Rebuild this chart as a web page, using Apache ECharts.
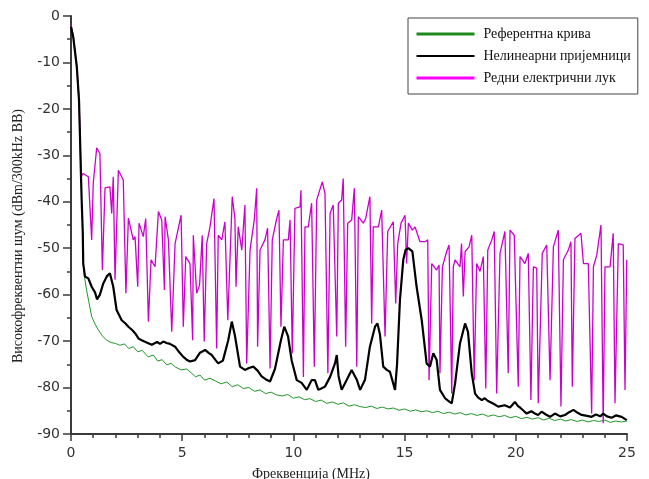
<!DOCTYPE html>
<html><head><meta charset="utf-8">
<script src="https://cdn.jsdelivr.net/npm/echarts@6/dist/echarts.min.js"></script>
<style>html,body{margin:0;padding:0;background:#fff}#c{width:649px;height:479px}</style>
</head><body><div id="c"></div>
<script>
const seriesNames = ['Референтна крива', 'Нелинеарни пријемници', 'Редни електрични лук'];
const xAxisTitle = 'Фреквенција (MHz)';
const yAxisTitle = 'Високофреквентни шум (dBm/300kHz BB)';

// Reference curve (green)
const greenFreq = [0.55,0.6,0.7,0.8,0.93,1.1,1.23,1.4,1.6,1.8,2.0,2.2,2.4,2.6,2.8,3.0,3.2,3.47,3.7,3.9,4.1,4.3,4.5,4.7,4.95,5.2,5.4,5.6,5.8,6.0,6.25,6.5,6.75,7.0,7.25,7.5,7.75,8.0,8.25,8.5,8.75,9.0,9.25,9.5,9.75,10.0,10.25,10.5,10.75,11.0,11.25,11.5,11.75,12.0,12.25,12.5,12.75,13.0,13.25,13.5,13.75,14.0,14.25,14.5,14.75,15.0,15.25,15.5,15.75,16.0,16.25,16.5,16.75,17.0,17.25,17.5,17.75,18.0,18.25,18.5,18.75,19.0,19.25,19.5,19.75,20.0,20.25,20.5,20.75,21.0,21.25,21.5,21.75,22.0,22.25,22.5,22.75,23.0,23.25,23.5,23.75,24.0,24.25,24.5,24.75,25.0];
const greenLevel = [-53.3,-56,-59,-61.5,-64.7,-66.5,-67.6,-68.8,-69.8,-70.3,-70.5,-70.9,-70.6,-71.6,-71.2,-72.3,-72.0,-73.4,-73.0,-74.3,-74.0,-75.1,-74.8,-75.6,-76.2,-76.0,-76.8,-77.7,-77.3,-78.4,-78.0,-78.6,-79.2,-78.8,-79.8,-79.4,-80.2,-80.0,-80.8,-80.5,-81.3,-81.0,-81.6,-81.8,-81.5,-82.3,-82.0,-82.6,-82.4,-83.0,-82.7,-83.4,-83.1,-83.6,-83.3,-84.0,-83.7,-84.1,-84.3,-84.0,-84.5,-84.2,-84.6,-84.4,-84.9,-84.6,-85.1,-84.8,-85.2,-85.0,-85.4,-85.1,-85.6,-85.3,-85.7,-85.4,-85.9,-85.6,-86.0,-85.7,-86.2,-85.9,-86.3,-86.0,-86.5,-86.2,-86.7,-86.4,-86.8,-86.5,-87.0,-86.6,-87.1,-86.8,-87.2,-86.9,-87.3,-87.0,-87.4,-87.1,-87.3,-87.0,-87.5,-87.2,-87.4,-87.2];

// Nonlinear receivers (black)
const blackFreq = [0,0.1,0.26,0.36,0.40,0.45,0.48,0.53,0.55,0.63,0.78,0.93,1.08,1.17,1.30,1.45,1.62,1.75,1.90,2.05,2.28,2.45,2.58,2.75,2.88,3.05,3.18,3.4,3.63,3.87,4.0,4.15,4.3,4.45,4.68,4.85,5.05,5.2,5.35,5.58,5.80,6.03,6.2,6.33,6.5,6.62,6.83,7.07,7.23,7.37,7.60,7.82,8.0,8.20,8.4,8.57,8.75,8.95,9.17,9.44,9.59,9.76,9.92,10.15,10.37,10.60,10.82,10.97,11.12,11.25,11.42,11.65,11.87,11.95,12.03,12.17,12.40,12.62,12.85,13.0,13.22,13.44,13.67,13.78,13.89,14.04,14.2,14.34,14.57,14.66,14.79,14.94,15.05,15.17,15.35,15.54,15.77,15.99,16.14,16.29,16.44,16.59,16.82,16.95,17.12,17.27,17.49,17.72,17.85,18.02,18.17,18.3,18.47,18.6,18.75,19.0,19.21,19.5,19.74,19.96,20.1,20.19,20.35,20.49,20.7,20.86,21.0,21.16,21.35,21.54,21.76,22.0,22.21,22.4,22.59,22.8,22.96,23.2,23.41,23.6,23.8,23.93,24.1,24.31,24.5,24.76,24.99];
const blackLevel = [-2.3,-4.5,-10.9,-18.1,-25.2,-34.6,-39.6,-46.8,-53.3,-56.1,-56.5,-58.3,-59.5,-61,-60,-57.6,-56,-55.4,-58.3,-63.3,-65.5,-66.2,-66.9,-67.6,-68.3,-69.5,-69.8,-70.3,-70.8,-70.2,-70.6,-70.1,-70.4,-70.6,-71.2,-72.3,-73.4,-74.0,-74.4,-74.1,-72.5,-71.9,-72.6,-73,-74.1,-74.8,-74.2,-69.8,-65.8,-68.8,-75.5,-76.2,-75.8,-75.5,-76.4,-77.6,-78.2,-78.7,-76,-69.8,-66.9,-69,-74.1,-78.4,-79,-80.5,-78.4,-78.4,-80.5,-80.2,-79.8,-77.7,-74.8,-73,-77.5,-80.5,-78.3,-76.2,-78.3,-80.5,-78.3,-71.2,-66.9,-66.2,-68.5,-75.5,-76.2,-76.6,-80.5,-75,-61.2,-52.5,-50.3,-50,-50.7,-58.3,-65.5,-74.8,-75.5,-72.6,-74,-80.5,-82.3,-82.8,-83.4,-79.1,-70.5,-66.2,-68,-77,-81.3,-82.1,-82.7,-82.3,-82.9,-83.5,-84.1,-83.8,-84.3,-83.1,-84.0,-84.3,-85.0,-85.6,-85.1,-85.6,-85.9,-85.2,-85.8,-86.3,-85.6,-86.2,-85.9,-85.3,-84.8,-85.5,-85.9,-86.1,-86.3,-85.8,-86.2,-85.6,-86.2,-86.5,-86.0,-86.3,-87];

// Series arc (magenta)
const pinkFreq = [0.0,0.1,0.26,0.36,0.40,0.45,0.55,0.78,0.93,1.0,1.155,1.30,1.41,1.53,1.75,1.83,1.90,1.98,2.13,2.35,2.47,2.58,2.80,2.88,3.00,3.06,3.25,3.36,3.48,3.60,3.78,3.93,4.08,4.20,4.23,4.38,4.53,4.68,4.95,5.05,5.16,5.35,5.47,5.50,5.65,5.78,5.90,5.99,6.10,6.25,6.43,6.55,6.62,6.78,6.92,7.05,7.25,7.37,7.42,7.52,7.68,7.82,7.90,8.05,8.24,8.35,8.39,8.50,8.72,8.84,8.95,9.05,9.25,9.35,9.44,9.55,9.77,9.85,9.95,10.07,10.30,10.34,10.45,10.52,10.67,10.82,10.94,11.05,11.30,11.42,11.55,11.65,11.79,11.95,12.02,12.17,12.24,12.35,12.44,12.62,12.74,12.85,12.92,13.14,13.25,13.44,13.52,13.59,13.82,13.97,14.12,14.24,14.49,14.60,14.69,14.84,15.02,15.09,15.17,15.35,15.47,15.69,15.92,16.04,16.10,16.22,16.44,16.55,16.59,16.70,16.89,17.00,17.12,17.19,17.27,17.49,17.56,17.64,17.72,17.90,18.02,18.13,18.24,18.39,18.54,18.65,18.74,18.92,19.03,19.14,19.29,19.51,19.66,19.74,19.93,20.11,20.19,20.41,20.56,20.68,20.79,20.94,21.01,21.19,21.39,21.54,21.69,21.91,22.03,22.14,22.36,22.48,22.54,22.66,22.93,23.04,23.26,23.41,23.49,23.64,23.83,23.93,24.01,24.24,24.38,24.46,24.61,24.83,24.91,24.99];
const pinkLevel = [-2.0,-4.3,-10.8,-18,-25,-34.6,-33.9,-34.6,-48.2,-36.0,-28.4,-29.6,-54.7,-37,-36.8,-42.5,-34.6,-56.8,-33.2,-35.3,-59.7,-43.5,-48.2,-47.5,-58.3,-44.6,-47.5,-43.6,-65.8,-52.5,-54,-42.1,-43.9,-59,-43.2,-48.2,-68,-49,-42.9,-66.9,-51.8,-53.3,-69.8,-47.2,-59.7,-58,-47.2,-70.1,-49,-45.4,-39.3,-71.6,-47.2,-48.2,-44.3,-65.5,-38.9,-43.6,-58.3,-45.4,-50.4,-40.7,-74.8,-50.4,-43.9,-37.1,-71.2,-50.4,-48.2,-45.7,-75.9,-48.2,-43.6,-41.8,-66.9,-48.2,-48.2,-43.9,-72.6,-41.4,-41.1,-37.5,-77.7,-45.4,-45.4,-40.3,-75.5,-39.6,-35.7,-38.2,-76.9,-42.5,-40.7,-69,-40.3,-39.6,-35,-71.2,-44.6,-43.9,-37.1,-75.5,-43.2,-44.6,-43.6,-38.9,-66.2,-45.4,-45.4,-41.8,-69,-46.4,-44.3,-61.9,-49,-44.6,-42.9,-53.3,-44.6,-46.1,-45.4,-48.6,-48.6,-48.2,-78.4,-53.3,-54.7,-53.6,-76.9,-54,-50.7,-49.3,-81.3,-54,-52.5,-54,-49,-60.4,-50.7,-49.7,-47.2,-78.4,-53.3,-55,-51.8,-80.2,-50.4,-48.2,-46.4,-81.3,-51.1,-46.4,-76.9,-46.1,-47.2,-79.8,-51.8,-53.3,-51.1,-82.7,-54,-54.3,-83.4,-51.1,-49.3,-78.4,-49.7,-46.1,-84.1,-52.5,-50.4,-48.6,-79.8,-47.9,-46.8,-53.3,-53.3,-85.6,-54,-51.5,-45,-87.7,-54,-54,-46.8,-83.4,-49,-49.3,-80.5,-52.5];

const pairs = (xs, ys) => xs.map((x, i) => [x, ys[i]]);

const chart = echarts.init(document.getElementById('c'), null, {renderer: 'canvas'});
const axisColor = '#3a3a3a';
const tickFont = {fontFamily: 'DejaVu Sans', fontSize: 14, color: '#333'};
const titleFont = {fontFamily: 'Liberation Serif', fontSize: 14, color: '#222'};

chart.setOption({
  animation: false,
  backgroundColor: '#fff',
  grid: {left: 71, right: 22, top: 16, bottom: 45, containLabel: false, outerBoundsMode: 'none'},
  legend: {
    orient: 'vertical',
    left: 408, top: 18,
    padding: [9, 7, 9, 7],
    itemGap: 8,
    itemWidth: 58, itemHeight: 14,
    borderColor: '#444', borderWidth: 1,
    itemStyle: {opacity: 0},
    textStyle: {fontFamily: 'Liberation Serif', fontSize: 14, color: '#111', padding: [0,0,0,4]},
    data: [
      {name: seriesNames[0], itemStyle: {opacity: 0}, lineStyle: {width: 3, color: '#1e8a1e'}},
      {name: seriesNames[1], itemStyle: {opacity: 0}, lineStyle: {width: 2, color: '#000'}},
      {name: seriesNames[2], itemStyle: {opacity: 0}, lineStyle: {width: 3, color: '#ff00ff'}}
    ]
  },
  xAxis: {
    type: 'value', min: 0, max: 25, interval: 5,
    name: xAxisTitle, nameLocation: 'middle', nameGap: 33,
    nameTextStyle: Object.assign({}, titleFont, {padding: [0, 76, 0, 0]}),
    axisLine: {show: true, onZero: false, lineStyle: {color: axisColor, width: 2}},
    axisTick: {show: true, inside: false, length: 7, lineStyle: {color: axisColor, width: 1.5}},
    minorTick: {show: true, splitNumber: 5, length: 4, lineStyle: {color: axisColor, width: 1.5}},
    axisLabel: Object.assign({margin: 12}, tickFont),
    splitLine: {show: false}
  },
  yAxis: {
    type: 'value', min: -90, max: 0, interval: 10,
    name: yAxisTitle, nameLocation: 'middle', nameGap: 46, nameRotate: 90,
    nameTextStyle: Object.assign({}, titleFont, {padding: [0, 22, 0, 0]}),
    axisLine: {show: true, onZero: false, lineStyle: {color: axisColor, width: 2}},
    axisTick: {show: true, inside: false, length: 8, lineStyle: {color: axisColor, width: 1.5}},
    minorTick: {show: true, splitNumber: 2, length: 4, lineStyle: {color: axisColor, width: 1.5}},
    axisLabel: Object.assign({margin: 11}, tickFont),
    splitLine: {show: false}
  },
  series: [
    {name: seriesNames[0], type: 'line', data: pairs(greenFreq, greenLevel), showSymbol: false, symbol: 'none', z: 2,
     lineStyle: {color: '#22962a', width: 1}, itemStyle: {color: '#22962a'}},
    {name: seriesNames[1], type: 'line', data: pairs(blackFreq, blackLevel), showSymbol: false, symbol: 'none', z: 4,
     lineStyle: {color: '#000', width: 2.2}, itemStyle: {color: '#000'}},
    {name: seriesNames[2], type: 'line', data: pairs(pinkFreq, pinkLevel), showSymbol: false, symbol: 'none', z: 3,
     lineStyle: {color: '#cc00cc', width: 1.3}, itemStyle: {color: '#cc00cc'}}
  ]
});
</script></body></html>
